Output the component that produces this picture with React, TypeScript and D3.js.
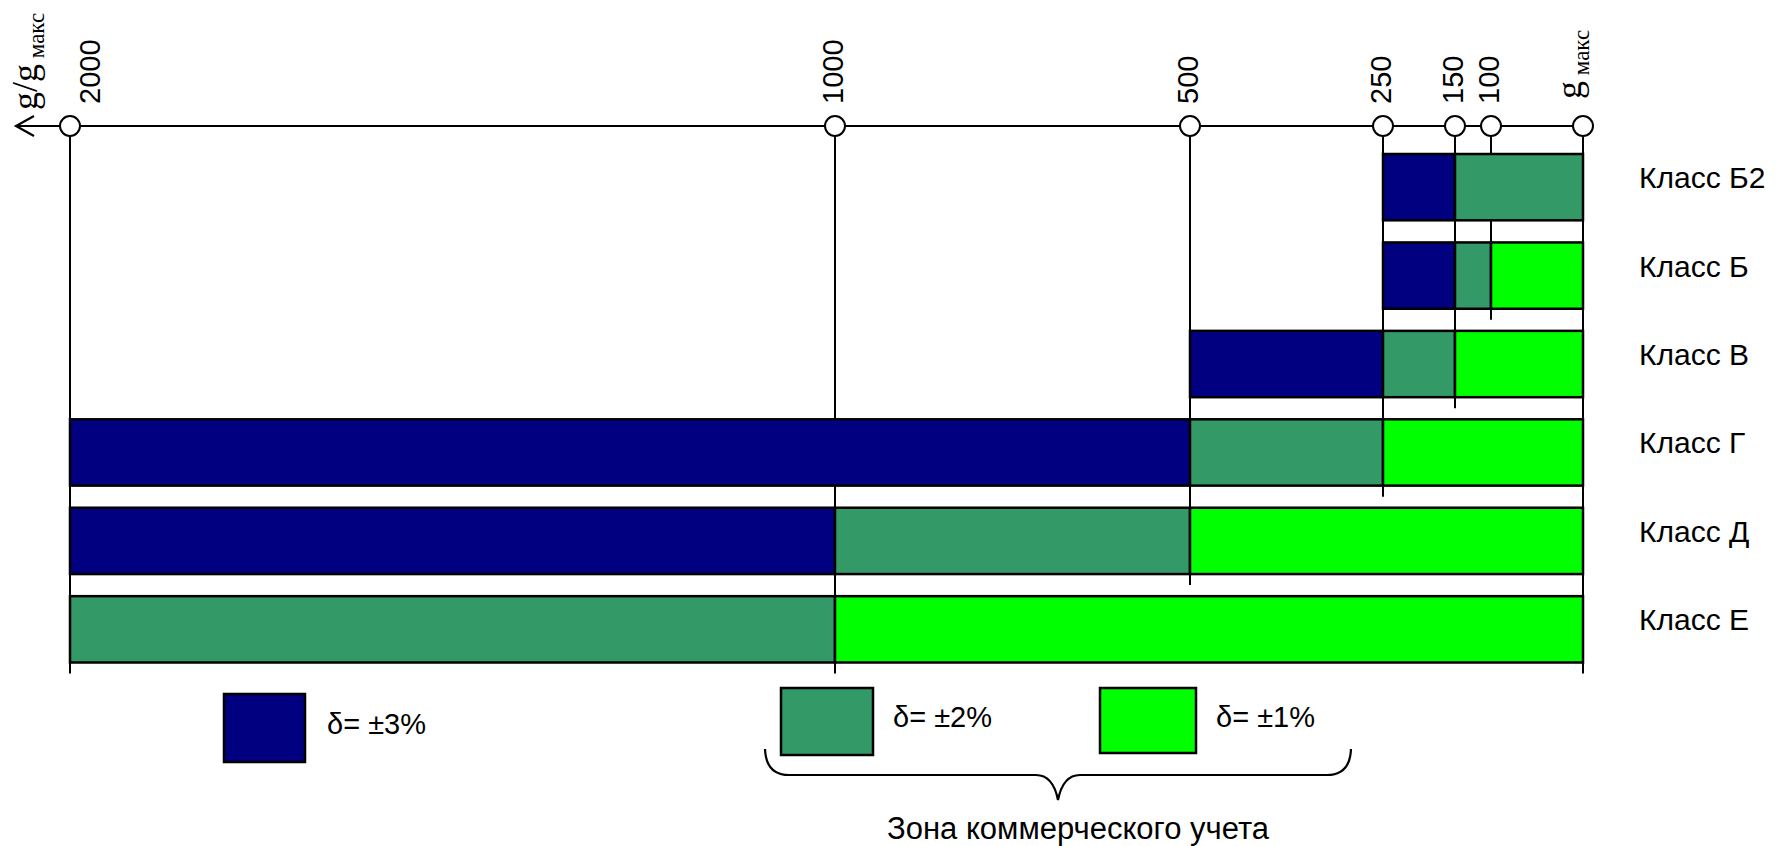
import React from "react";
import * as d3 from "d3";

// ---- data ----
const tickValues = [2000, 1000, 500, 250, 150, 100, 1];
const tickLabels = ["2000", "1000", "500", "250", "150", "100", "g"];
const classNames = ["Класс Б2", "Класс Б", "Класс В", "Класс Г", "Класс Д", "Класс Е"];
const classBreaks = [
  [250, 150, 1],
  [250, 150, 100, 1],
  [500, 250, 150, 1],
  [2000, 500, 250, 1],
  [2000, 1000, 500, 1],
  [2000, 1000, 1],
];
const classErrors = [
  [3, 2],
  [3, 2, 1],
  [3, 2, 1],
  [3, 2, 1],
  [3, 2, 1],
  [2, 1],
];
const legendErrors = [3, 2, 1];
const legendLabels = ["δ= ±3%", "δ= ±2%", "δ= ±1%"];
const zoneLabel = "Зона коммерческого учета";
const subLabel = "макс";

// ---- styles / layout ----
const W = 1779;
const H = 846;
const SANS = "Arial, 'Liberation Sans', sans-serif";
const SERIF = "'Times New Roman', 'Liberation Serif', serif";
const colorByError: Record<number, string> = { 3: "#000080", 2: "#339966", 1: "#00FF00" };
const axisY = 126;
const legendLayout = [
  { x: 224, y: 694, w: 81, h: 68, tx: 327, ty: 734 },
  { x: 781, y: 688, w: 92, h: 67, tx: 893, ty: 727 },
  { x: 1100, y: 688, w: 96, h: 65, tx: 1216, ty: 727 },
];

export default function App() {
  const x = d3
    .scaleLinear()
    .domain(tickValues)
    .range([70, 835, 1190, 1383, 1455, 1491, 1583]);
  const y = d3
    .scaleBand<string>()
    .domain(classNames)
    .range([154, 662.5])
    .paddingInner(0.25)
    .paddingOuter(0);
  const bw = y.bandwidth();

  // lowest class that uses each boundary
  const lineBottom = tickValues.map((v) => {
    let idx = -1;
    classBreaks.forEach((b, i) => {
      if (b.includes(v)) idx = i;
    });
    const name = classNames[Math.max(idx, 0)];
    return (y(name) as number) + bw + 11;
  });

  const braceL = 765;
  const braceR = 1351;
  const braceC = (braceL + braceR) / 2;
  const braceTop = 749;
  const braceMid = 775;
  const braceTip = 800;
  const bracePath = d3.path();
  bracePath.moveTo(braceL, braceTop);
  bracePath.quadraticCurveTo(braceL + 1, braceMid, braceL + 24, braceMid);
  bracePath.lineTo(braceC - 22, braceMid);
  bracePath.quadraticCurveTo(braceC - 5, braceMid, braceC, braceTip);
  bracePath.quadraticCurveTo(braceC + 5, braceMid, braceC + 22, braceMid);
  bracePath.lineTo(braceR - 24, braceMid);
  bracePath.quadraticCurveTo(braceR - 1, braceMid, braceR, braceTop);

  return (
    <svg
      width={W}
      height={H}
      viewBox={`0 0 ${W} ${H}`}
      style={{ position: "absolute", left: 0, top: 0, background: "#fff" }}
    >
      <rect x={0} y={0} width={W} height={H} fill="#fff" />

      {/* vertical boundary lines */}
      {tickValues.map((v, i) => (
        <line
          key={"vl" + i}
          x1={x(v)}
          x2={x(v)}
          y1={axisY}
          y2={lineBottom[i]}
          stroke="#000"
          strokeWidth={2}
        />
      ))}

      {/* bars */}
      {classNames.map((name, ci) => {
        const b = classBreaks[ci];
        const top = y(name) as number;
        return (
          <g key={name}>
            {classErrors[ci].map((e, si) => (
              <rect
                key={si}
                x={x(b[si])}
                y={top}
                width={x(b[si + 1]) - x(b[si])}
                height={bw}
                fill={colorByError[e]}
                stroke="#000"
                strokeWidth={2.5}
              />
            ))}
            <text
              x={1639}
              y={top + bw / 2 + 1}
              fontFamily={SANS}
              fontSize={30}
              fill="#000"
            >
              {name}
            </text>
          </g>
        );
      })}

      {/* top axis */}
      <line x1={16} x2={x(1)} y1={axisY} y2={axisY} stroke="#000" strokeWidth={2.2} />
      <path
        d={`M34,${axisY - 10} L16,${axisY} L34,${axisY + 10}`}
        fill="none"
        stroke="#000"
        strokeWidth={2.2}
      />
      {tickValues.map((v, i) => (
        <circle key={"c" + i} cx={x(v)} cy={axisY} r={10} fill="#fff" stroke="#000" strokeWidth={2} />
      ))}
      {tickValues.map((v, i) => {
        const isMax = i === tickValues.length - 1;
        if (isMax) {
          return (
            <text
              key={"t" + i}
              transform={`translate(${x(v) - 2},99) rotate(-90)`}
              fontFamily={SERIF}
              fontSize={36}
              fill="#000"
            >
              {tickLabels[i]}
              <tspan fontSize={23} dy={8}>
                {" " + subLabel}
              </tspan>
            </text>
          );
        }
        const dx = i === 0 ? 30 : 8;
        return (
          <text
            key={"t" + i}
            transform={`translate(${x(v) + dx},104) rotate(-90)`}
            fontFamily={SANS}
            fontSize={29}
            fill="#000"
          >
            {tickLabels[i]}
          </text>
        );
      })}

      {/* axis title */}
      <text transform="translate(37,110) rotate(-90)" fontFamily={SERIF} fontSize={36} fill="#000">
        g/g
        <tspan fontSize={23} dy={7}>
          {" " + subLabel}
        </tspan>
      </text>

      {/* legend */}
      {legendErrors.map((e, i) => {
        const L = legendLayout[i];
        return (
          <g key={"lg" + i}>
            <rect
              x={L.x}
              y={L.y}
              width={L.w}
              height={L.h}
              fill={colorByError[e]}
              stroke="#000"
              strokeWidth={2.5}
            />
            <text x={L.tx} y={L.ty} fontFamily={SANS} fontSize={29} fill="#000">
              {legendLabels[i]}
            </text>
          </g>
        );
      })}

      {/* brace */}
      <path d={bracePath.toString()} fill="none" stroke="#000" strokeWidth={2.2} />
      <text x={1078} y={839} textAnchor="middle" fontFamily={SANS} fontSize={31} fill="#000">
        {zoneLabel}
      </text>
    </svg>
  );
}
